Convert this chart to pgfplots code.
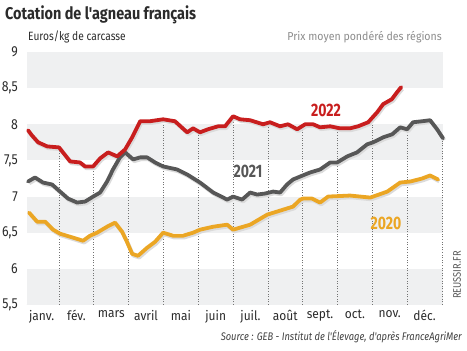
\documentclass[border=0pt]{standalone}
\usepackage{pgfplots}
\usepackage{pgfplotstable}
\pgfplotsset{compat=1.18}
\usepackage{fontspec}
\setmainfont{Fira Sans}
\newfontfamily\condA[FakeStretch=0.85]{Fira Sans}
\newfontfamily\condB[FakeStretch=0.92]{Fira Sans}
\newfontfamily\condC[FakeStretch=0.78]{Fira Sans}
\definecolor{cred}{HTML}{C81E1E}
\definecolor{cgray}{HTML}{575757}
\definecolor{corange}{HTML}{EBA624}
\definecolor{band}{HTML}{EFF0F1}
\definecolor{txt}{HTML}{2B2B2B}

\pgfplotstableread{
x y
0.11 7.917
0.22 7.847
0.40 7.75
0.66 7.694
1.00 7.68
1.32 7.486
1.60 7.472
1.75 7.417
1.98 7.417
2.18 7.528
2.41 7.611
2.67 7.556
2.90 7.653
3.10 7.819
3.33 8.042
3.61 8.042
3.99 8.069
4.33 8.042
4.68 7.889
4.85 7.944
5.05 7.889
5.28 7.931
5.57 7.972
5.77 7.972
6.00 8.111
6.20 8.069
6.49 8.056
6.86 8.0
7.06 8.028
7.35 7.972
7.58 8.0
7.84 7.931
8.07 8.0
8.30 8.0
8.50 7.958
8.79 7.972
9.07 7.944
9.36 7.944
9.59 7.972
9.88 8.028
10.14 8.167
10.31 8.278
10.56 8.347
10.71 8.444
10.83 8.514
}\redtab

\pgfplotstableread{
x y
0.11 7.208
0.31 7.264
0.54 7.194
0.80 7.167
1.03 7.069
1.26 6.972
1.52 6.917
1.75 6.931
1.98 7.0
2.18 7.056
2.38 7.208
2.55 7.375
2.75 7.542
2.90 7.611
3.13 7.514
3.33 7.542
3.53 7.542
3.76 7.472
3.99 7.417
4.39 7.375
4.68 7.306
5.05 7.194
5.43 7.056
5.83 6.958
6.00 7.0
6.26 6.958
6.49 7.056
6.69 7.028
6.92 7.042
7.15 7.069
7.35 7.056
7.55 7.167
7.72 7.236
7.93 7.278
8.21 7.333
8.50 7.375
8.79 7.472
8.99 7.472
9.28 7.556
9.56 7.611
9.85 7.722
10.02 7.75
10.31 7.819
10.57 7.861
10.80 7.958
11.00 7.931
11.17 8.028
11.43 8.042
11.66 8.056
11.86 7.931
12.03 7.806
}\graytab

\pgfplotstableread{
x y
0.14 6.778
0.37 6.653
0.60 6.653
0.83 6.542
1.03 6.486
1.32 6.444
1.69 6.389
1.89 6.458
2.09 6.5
2.38 6.583
2.61 6.639
2.81 6.514
2.95 6.375
3.10 6.208
3.27 6.181
3.53 6.292
3.76 6.375
3.99 6.5
4.28 6.458
4.56 6.458
4.85 6.5
5.05 6.542
5.43 6.583
5.83 6.611
6.00 6.542
6.49 6.611
6.98 6.75
7.44 6.819
7.72 6.861
7.93 6.958
8.01 6.972
8.27 6.972
8.50 6.917
8.73 7.0
9.36 7.014
9.94 6.986
10.43 7.069
10.80 7.194
11.09 7.208
11.43 7.25
11.66 7.292
11.89 7.236
}\orangetab

\begin{document}
\begin{tikzpicture}[x=1pt,y=1pt]
\path (0,0) rectangle (467,351);
\begin{axis}[
  at={(27pt,46pt)}, anchor=south west,
  width=416pt, height=253pt, scale only axis,
  xmin=0.08, xmax=12.03, ymin=5.5, ymax=9,
  axis x line*=bottom, axis y line*=left,
  y axis line style={draw=none},
  x axis line style={draw=txt, line width=1pt},
  xtick={0.5,1.5,...,11.5},
  xticklabels={janv.,fév.,mars,avril,mai,juin,juil.,août,sept.,oct.,nov.,déc.},
  xtick style={draw=none}, ytick style={draw=none},
  ytick={5.5,6,6.5,7,7.5,8,8.5,9},
  yticklabels={{5,5},6,{6,5},7,{7,5},8,{8,5},9},
  yticklabel style={font=\condA\fontsize{14.5}{15}\selectfont, text=txt, anchor=east, inner sep=0pt, xshift=-9pt},
  xticklabel style={font=\condB\fontsize{13}{14}\selectfont, text=txt, anchor=north, inner sep=0pt, yshift=-5pt},
  clip=false,
]
\fill[band] (axis cs:0.08,8.5) rectangle (axis cs:12.03,9);
\fill[band] (axis cs:0.08,7.5) rectangle (axis cs:12.03,8);
\fill[band] (axis cs:0.08,6.5) rectangle (axis cs:12.03,7);
\fill[band] (axis cs:0.08,5.5) rectangle (axis cs:12.03,6);
\addplot[ycomb, no marks, color=black!55, line width=0.75pt, dash pattern=on 1pt off 1.6pt]
  coordinates {(1,7.64) (2,7.38) (3,7.62) (4,8.03) (5,7.87) (6,8.07) (7,7.96) (8,7.95) (9,7.92) (10,8.06) (11,7.90) (12,7.77)};
% shadows
\addplot[no marks, black!14, line width=3.8pt, line join=round, xshift=1.2pt, yshift=-1.8pt] table {\orangetab};
\addplot[no marks, black!14, line width=3.8pt, line join=round, xshift=1.2pt, yshift=-1.8pt] table {\graytab};
\addplot[no marks, black!14, line width=3.8pt, line join=round, xshift=1.2pt, yshift=-1.8pt] table {\redtab};
\addplot[no marks, corange, line width=3.8pt, line join=round, line cap=round] table {\orangetab};
\addplot[no marks, cgray, line width=3.8pt, line join=round, line cap=round] table {\graytab};
\addplot[no marks, cred, line width=3.8pt, line join=round, line cap=round] table {\redtab};
\end{axis}
% texts
\node[anchor=base west, inner sep=0pt, text=txt] at (5,331.7) {\condA\fontsize{17}{18}\selectfont\bfseries Cotation de l'agneau français};
\node[anchor=base west, inner sep=0pt, text=txt] at (28,310.5) {\condA\fontsize{12}{13}\selectfont Euros/kg de carcasse};
\node[anchor=base east, inner sep=0pt, text=black!45] at (442,310.5) {\condB\fontsize{11.5}{12}\selectfont Prix moyen pondéré des régions};
\node[inner sep=0pt, text=cred] at (326,241) {\condC\fontsize{18}{18}\selectfont\bfseries 2022};
\node[inner sep=0pt, text=cgray] at (248,180) {\condC\fontsize{18}{18}\selectfont\bfseries 2021};
\node[inner sep=0pt, text=corange] at (386,128) {\condC\fontsize{18}{18}\selectfont\bfseries 2020};
\node[anchor=base east, inner sep=0pt, text=txt!90] at (462,10) {\condA\fontsize{11}{12}\selectfont\itshape Source : GEB - Institut de l'Élevage, d'après FranceAgriMer};
\node[rotate=90, inner sep=0pt, text=black!65] at (457,76) {\condA\fontsize{11}{12}\selectfont REUSSIR.FR};
\end{tikzpicture}
\end{document}
